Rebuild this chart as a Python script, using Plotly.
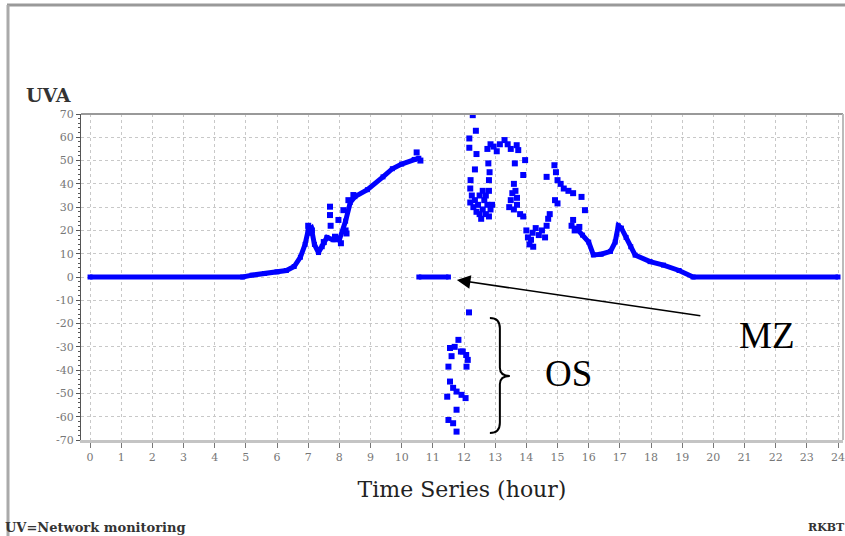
import plotly.graph_objects as go

# Continuous daylight curve before the gap (hour, UVA)
am_hours = [0, 4.9, 5.2, 5.6, 6.0, 6.3, 6.55, 6.75, 6.9, 7.0, 7.1, 7.2, 7.33, 7.45, 7.6,
            7.8, 8.0, 8.2, 8.35, 8.5, 8.9, 9.4, 9.7, 10.0, 10.4, 10.55]
am_uva = [0, 0, 0.8, 1.5, 2.2, 2.8, 4.5, 8.5, 14, 20, 21, 14, 10.5, 13, 17,
          16, 16, 24, 32, 34.5, 37.5, 43, 46.5, 48.5, 50.5, 51]

# Scattered morning readings
am_sc_hours = [7.0, 7.05, 7.12, 7.5, 7.7, 7.7, 7.72, 7.86, 7.97, 8.05, 8.13, 8.2, 8.23,
               8.29, 8.45, 10.48, 10.6]
am_sc_uva = [22, 19, 20, 15, 30.2, 26.6, 22, 17.3, 24.5, 14.5, 28.7, 20, 18.7,
             33, 35.2, 53.5, 50]

# Zero readings in the gap (MZ)
mz_hours = [10.55, 11.5]
mz_uva = [0, 0]

# Negative outliers (OS)
os_hours = [12.16, 11.82, 11.55, 11.9, 11.96, 12.07, 12.12, 11.5, 12.08, 11.55, 11.65,
            11.76, 11.92, 12.05, 11.46, 11.76, 11.5, 11.65, 11.76, 11.7, 11.6]
os_uva = [-15.2, -27, -30.5, -32, -32, -33.5, -35.6, -38.5, -38.5, -44.9, -47.6,
          -49.2, -50.6, -52, -51.4, -57, -61.4, -62.8, -66.4, -30, -34]

# Scattered afternoon readings
pm_hours = [12.28, 12.38, 12.17, 12.17, 12.40, 12.35, 12.21, 12.2, 12.25, 12.2, 12.3,
            12.35, 12.4, 12.45, 12.5, 12.55, 12.6, 12.65, 12.7, 12.75, 12.8, 12.85,
            12.9, 12.5, 12.6, 12.7, 12.78, 12.82, 12.8, 12.8, 12.75, 12.85, 12.95,
            13.05, 13.15, 13.3, 13.4, 13.5, 13.69, 13.74, 13.63, 13.96, 13.9, 13.6,
            13.65, 13.7, 13.55, 13.5, 13.45, 13.6, 13.7, 13.8, 13.9, 14.0, 14.05,
            14.1, 14.15, 14.2, 14.22, 14.3, 14.4, 14.5, 14.6, 14.65, 14.7, 14.75,
            14.65, 14.9, 14.95, 15.0, 15.1, 15.2, 15.35, 15.5, 15.77, 15.88, 14.92,
            15.0, 15.5, 15.45, 15.55, 15.7]
pm_uva = [69.5, 62.8, 59.5, 55.5, 52.8, 46.2, 41.6, 38, 35, 32, 30,
          33, 28, 31, 27, 25, 29, 33, 27, 31, 26, 29,
          31, 35, 37, 35, 48.8, 45, 41.6, 37, 55, 57, 56,
          54, 57, 58.8, 57, 55, 56.6, 54.5, 48.8, 50.2, 43.8, 40,
          37, 34, 36, 33, 30, 29, 31, 27, 26, 20, 17,
          14, 16, 19, 13, 21, 18, 20, 17, 22, 25, 27,
          43, 48, 45, 41.6, 40, 38, 37, 36, 34.4, 28.7, 33,
          31.6, 24.5, 22, 20, 21.5]

# Continuous evening decline to zero
pm_line_hours = [15.6, 15.8, 16.0, 16.15, 16.4, 16.7, 16.85, 16.95, 17.05, 17.2, 17.35,
                 17.49, 17.97, 18.4, 18.9, 19.35, 24]
pm_line_uva = [21, 18, 15, 9.5, 9.8, 11, 15, 22, 21, 17, 13,
               9.4, 6.6, 5.1, 2.8, 0, 0]

x_ticks = list(range(0, 25))
y_ticks = list(range(-70, 71, 10))

BLUE = "#0000ff"
SERIF = "Liberation Serif, DejaVu Serif, serif"
WIDE_SERIF = "DejaVu Serif, Liberation Serif, serif"

# Plot-area geometry in pixels (for paper-coordinate decorations)
W, H = 845, 536
L, R, T, B = 81, 843, 114, 440


def px(xp):
    return (xp - L) / (R - L)


def py(yp):
    return (B - yp) / (B - T)


fig = go.Figure()

line_style = dict(mode="lines+markers", line=dict(color=BLUE, width=5),
                  marker=dict(color=BLUE, symbol="square", size=5), showlegend=False,
                  hoverinfo="x+y")
dot_style = dict(mode="markers", marker=dict(color=BLUE, symbol="square", size=6),
                 showlegend=False, hoverinfo="x+y")

fig.add_trace(go.Scatter(x=am_hours, y=am_uva, **line_style))
fig.add_trace(go.Scatter(x=am_sc_hours, y=am_sc_uva, **dot_style))
fig.add_trace(go.Scatter(x=mz_hours, y=mz_uva, **line_style))
fig.add_trace(go.Scatter(x=os_hours, y=os_uva, **dot_style))
fig.add_trace(go.Scatter(x=pm_hours, y=pm_uva, **dot_style))
fig.add_trace(go.Scatter(x=pm_line_hours, y=pm_line_uva, **line_style))

fig.update_xaxes(
    range=[-0.29, 24.16], tickvals=x_ticks, ticktext=[str(v) for v in x_ticks],
    showgrid=True, gridcolor="#c8c8c8", griddash="dot", gridwidth=1,
    showline=True, linecolor="#c4c4c4", linewidth=3,
    ticks="outside", ticklen=5, tickcolor="#777", tickwidth=1,
    tickfont=dict(family=WIDE_SERIF, size=11, color="#777"),
    ticklabeloverflow="allow",
    zeroline=False,
    title=dict(text="Time Series (hour)", font=dict(family=WIDE_SERIF, size=22, color="#222"),
               standoff=19),
)
fig.update_yaxes(
    range=[-70, 70], tickvals=y_ticks, ticktext=[str(v) for v in y_ticks],
    showgrid=True, gridcolor="#c8c8c8", griddash="dot", gridwidth=1,
    showline=True, linecolor="#555", linewidth=1,
    ticks="outside", ticklen=4, tickcolor="#555", tickwidth=1,
    minor=dict(dtick=2, ticks="outside", ticklen=2, tickcolor="#555"),
    tickfont=dict(family=WIDE_SERIF, size=11, color="#777"),
    ticklabeloverflow="allow",
    zeroline=False,
)

shapes = [
    # top and right borders of the plot area
    dict(type="line", xref="paper", yref="paper", x0=0, x1=1, y0=1, y1=1,
         line=dict(color="#999", width=2)),
    dict(type="line", xref="paper", yref="paper", x0=1, x1=1, y0=0, y1=1,
         line=dict(color="#bbb", width=2)),
    # outer page frame
    dict(type="line", xref="paper", yref="paper", x0=px(7), x1=px(845), y0=py(5), y1=py(5),
         line=dict(color="#999", width=3)),
    dict(type="line", xref="paper", yref="paper", x0=px(8), x1=px(8), y0=py(5), y1=py(536),
         line=dict(color="#aaa", width=3)),
    # curly brace around the outliers
    dict(type="path", xref="x", yref="y",
         path="M 12.83,-17.6 Q 13.15,-17.6 13.15,-22 L 13.15,-39 Q 13.15,-42.5 13.47,-42.5 "
              "Q 13.15,-42.5 13.15,-46 L 13.15,-62.6 Q 13.15,-67 12.83,-67",
         line=dict(color="black", width=2)),
]

centered = dict(xanchor="center", yanchor="middle", showarrow=False,
                xref="paper", yref="paper")

annotations = [
    dict(x=11.77, y=-1.3, xref="x", yref="y", ax=245, ay=36, showarrow=True,
         arrowhead=2, arrowsize=1.7, arrowwidth=1.6, arrowcolor="black", text=""),
    dict(x=px(767), y=py(335), text="MZ",
         font=dict(family=SERIF, size=37, color="black"), **centered),
    dict(x=px(568), y=py(373), text="OS",
         font=dict(family=SERIF, size=37, color="black"), **centered),
    dict(x=px(48), y=py(95), text="<b>UVA</b>",
         font=dict(family=WIDE_SERIF, size=19, color="#333"), **centered),
    dict(x=px(95), y=py(527), text="<b>UV=Network monitoring</b>",
         font=dict(family=WIDE_SERIF, size=13, color="#333"), **centered),
    dict(x=px(826), y=py(527), text="<b>RKBT</b>",
         font=dict(family=WIDE_SERIF, size=11, color="#333"), **centered),
]

fig.update_layout(
    width=W, height=H,
    margin=dict(l=L, r=W - R, t=T, b=H - B, autoexpand=False),
    paper_bgcolor="white", plot_bgcolor="white",
    shapes=shapes, annotations=annotations,
    showlegend=False,
)

fig.write_html("out.html")
